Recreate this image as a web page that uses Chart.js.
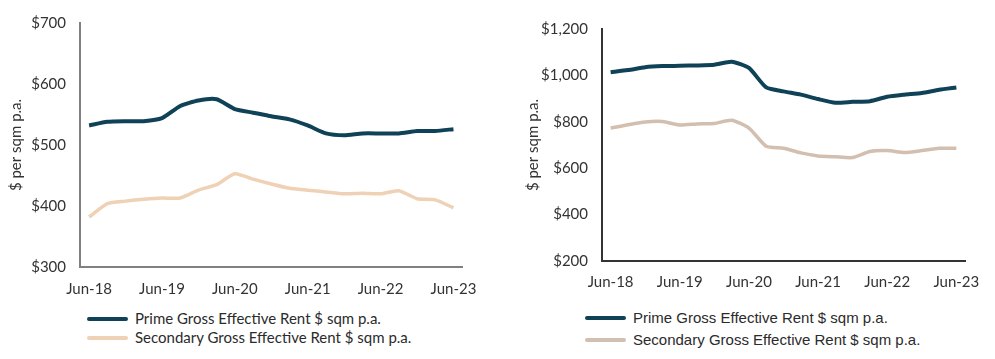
<!DOCTYPE html>
<html>
<head>
<meta charset="utf-8">
<script src="https://cdn.jsdelivr.net/npm/chart.js@4"></script>
<style>
body{margin:0;background:#fff;width:995px;height:359px;overflow:hidden;position:relative;}
.box{position:absolute;top:0;height:300px;}
.legend{position:absolute;color:#2b2b2b;}
.legend div{position:relative;white-space:nowrap;}
.legend span{position:absolute;left:0;width:41px;border-radius:3px;}
</style>
</head>
<body>
<div class="box" style="left:0;width:490px"><canvas id="leftChart"></canvas></div>
<div class="box" style="left:500px;width:495px"><canvas id="rightChart"></canvas></div>
<div class="legend" id="leftLegend" style="left:87px;top:309px;font:15px Lato"></div>
<div class="legend" id="rightLegend" style="left:585px;top:307px;font:15px 'Liberation Sans'"></div>
<script>
const quarters=["Jun-18","Sep-18","Dec-18","Mar-19","Jun-19","Sep-19","Dec-19","Mar-20","Jun-20","Sep-20","Dec-20","Mar-21","Jun-21","Sep-21","Dec-21","Mar-22","Jun-22","Sep-22","Dec-22","Mar-23","Jun-23"];

const leftPrime=[532,538,539,539,544,564,573,575,559,553,547,542,532,519,516,519,519,519,523,523,526];
const leftSecondary=[382,404,408,411,413,413,426,435,453,444,436,429,426,423,420,421,420,425,412,410,397];

const rightPrime=[1014,1023,1035,1040,1042,1043,1046,1059,1032,948,931,917,898,882,886,889,908,917,924,938,948];
const rightSecondary=[773,787,799,801,786,791,793,807,773,695,686,666,653,649,646,672,676,668,676,686,686];

const seriesNames=["Prime Gross Effective Rent $ sqm p.a.","Secondary Gross Effective Rent $ sqm p.a."];

function makeChart(id,opt){
return new Chart(
document.getElementById(id),
{
type:"line",
data:{
labels:quarters,
datasets:[
{label:seriesNames[0],data:opt.prime,borderColor:"#0f4257",borderWidth:4,pointRadius:0,tension:0.2},
{label:seriesNames[1],data:opt.secondary,borderColor:opt.secColor,borderWidth:3.5,pointRadius:0,tension:0.2}
]
},
options:{
responsive:true,
maintainAspectRatio:false,
animation:false,
layout:{padding:{top:opt.top,right:opt.right,left:0,bottom:0}},
plugins:{legend:{display:false},tooltip:{enabled:false}},
scales:{
x:{
offset:true,
grid:{display:false,drawTicks:false},
border:{color:opt.axisColor,width:2},
ticks:{
autoSkip:false,maxRotation:0,padding:opt.xPad,color:"#333",
font:{family:"Lato",size:15},
callback:(v,i)=>i%4===0?quarters[i]:""
},
afterFit:s=>{s.height=opt.xHeight;}
},
y:{
min:opt.min,max:opt.max,
grid:{display:false,drawTicks:false},
border:{color:opt.axisColor,width:2},
ticks:{
stepSize:opt.step,padding:14,color:"#333",
font:{family:"Lato",size:15},
callback:v=>"$"+v.toLocaleString("en-US")
},
title:{display:true,text:"$ per sqm p.a.",color:"#333",font:{family:"Lato",size:15},padding:{top:opt.titlePad,bottom:0}},
afterFit:s=>{s.width=opt.yWidth;}
}
}
}
}
);
}

const leftChart=makeChart("leftChart",{
prime:leftPrime,secondary:leftSecondary,secColor:"#efd1b5",axisColor:"#808080",
min:300,max:700,step:100,top:17,right:26,xHeight:33,yWidth:80,xPad:13,titlePad:7
});

const rightChart=makeChart("rightChart",{
prime:rightPrime,secondary:rightSecondary,secColor:"#d3bfb0",axisColor:"#333",
min:200,max:1200,step:200,top:29,right:30,xHeight:39,yWidth:102,xPad:12,titlePad:24
});

function buildLegend(chart,id,rowH,lineW){
const el=document.getElementById(id);
chart.data.datasets.forEach(ds=>{
const row=document.createElement("div");
row.style.height=rowH+"px";
row.style.lineHeight=rowH+"px";
row.style.paddingLeft="48px";
const sw=document.createElement("span");
sw.style.background=ds.borderColor;
sw.style.height=lineW+"px";
sw.style.top=(rowH/2-lineW/2)+"px";
row.appendChild(sw);
row.appendChild(document.createTextNode(ds.label));
el.appendChild(row);
});
}

buildLegend(leftChart,"leftLegend",19,4);
buildLegend(rightChart,"rightLegend",22,4);
</script>
</body>
</html>
